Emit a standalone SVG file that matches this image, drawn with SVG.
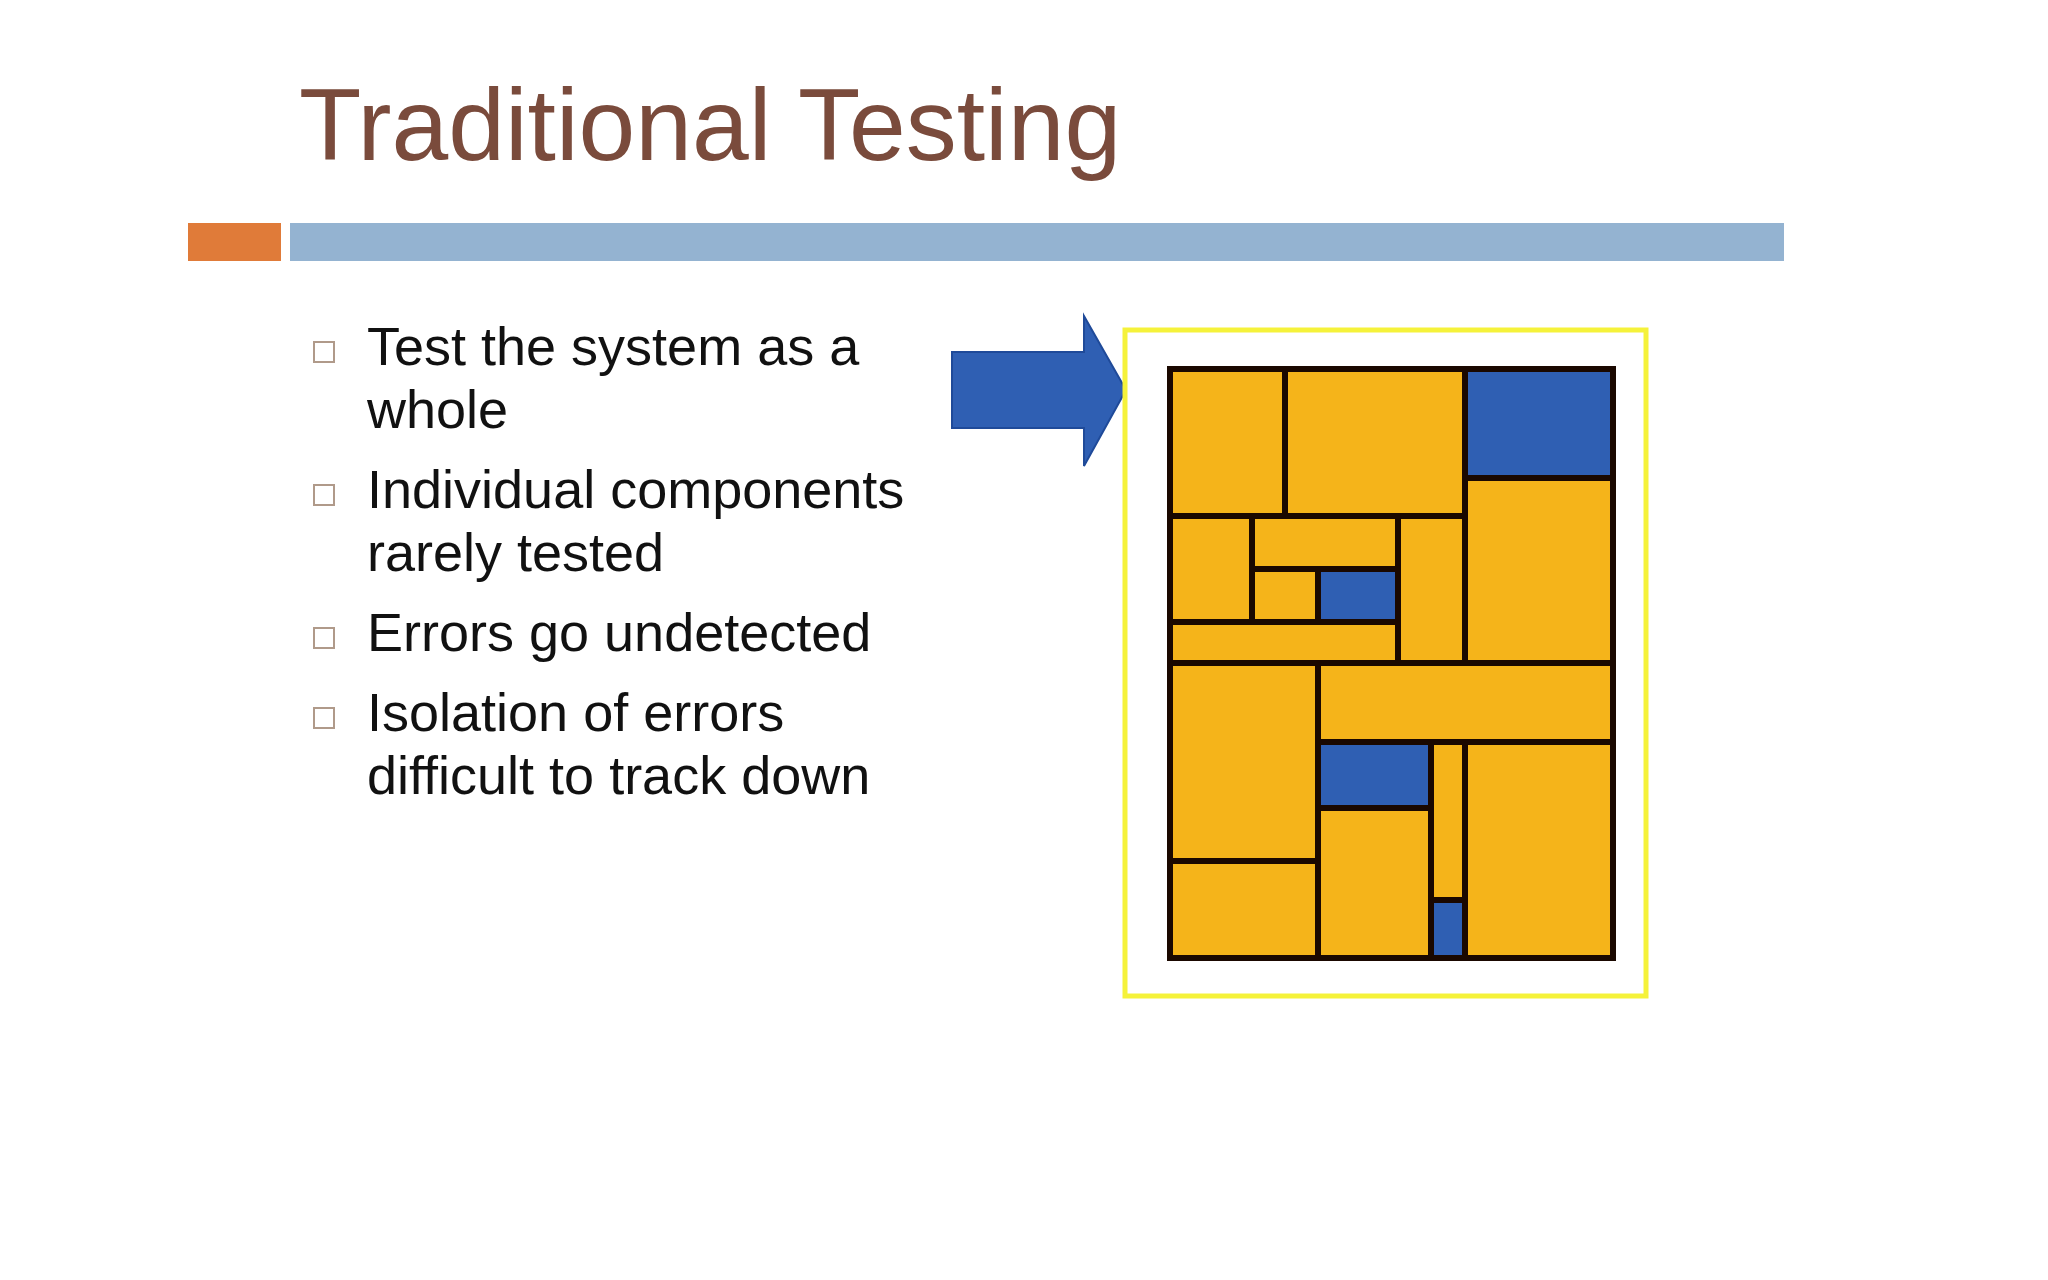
<svg xmlns="http://www.w3.org/2000/svg" width="2048" height="1280" viewBox="0 0 2048 1280">
<style>
.t{font-family:"Liberation Sans",Arial,sans-serif;fill:#111;font-size:54px}
.b{fill:none;stroke:#b09a8a;stroke-width:2}
.y{fill:#f5b41a;stroke:#1a0800;stroke-width:6}
.u{fill:#2f5fb3;stroke:#1a0800;stroke-width:6}
</style>
<rect width="2048" height="1280" fill="#fff"/>
<text x="299" y="160" font-family="Liberation Sans,Arial,sans-serif" font-size="102" fill="#7a4b3c">Traditional Testing</text>
<rect x="188" y="223" width="93" height="38" fill="#e07b39"/>
<rect x="290" y="223" width="1494" height="38" fill="#94b3d1"/>
<g id="bullets">
<rect class="b" x="314" y="342" width="20" height="20"/>
<rect class="b" x="314" y="485" width="20" height="20"/>
<rect class="b" x="314" y="628" width="20" height="20"/>
<rect class="b" x="314" y="708" width="20" height="20"/>
<text class="t" x="367" y="365">Test the system as a</text>
<text class="t" x="367" y="428">whole</text>
<text class="t" x="367" y="508">Individual components</text>
<text class="t" x="367" y="571">rarely tested</text>
<text class="t" x="367" y="651">Errors go undetected</text>
<text class="t" x="367" y="731">Isolation of errors</text>
<text class="t" x="367" y="794">difficult to track down</text>
</g>
<g id="arrow"><polygon points="952,352 1084,352 1084,316 1126,390 1084,466 1084,428 952,428" fill="#2f5fb3" stroke="#1f4a99" stroke-width="2"/></g>
<g id="system">
<rect x="1125" y="330" width="521" height="666" fill="none" stroke="#f5f23a" stroke-width="5"/>
<rect x="1170" y="369" width="443" height="589" fill="#1a0800"/>
<rect class="y" x="1170" y="369" width="115" height="147"/>
<rect class="y" x="1285" y="369" width="180" height="147"/>
<rect class="u" x="1465" y="369" width="148" height="109"/>
<rect class="y" x="1465" y="478" width="148" height="185"/>
<rect class="y" x="1170" y="516" width="82" height="106"/>
<rect class="y" x="1252" y="516" width="146" height="53"/>
<rect class="y" x="1252" y="569" width="66" height="53"/>
<rect class="u" x="1318" y="569" width="80" height="53"/>
<rect class="y" x="1170" y="622" width="228" height="41"/>
<rect class="y" x="1398" y="516" width="67" height="147"/>
<rect class="y" x="1170" y="663" width="148" height="198"/>
<rect class="y" x="1170" y="861" width="148" height="97"/>
<rect class="y" x="1318" y="663" width="295" height="79"/>
<rect class="u" x="1318" y="742" width="113" height="66"/>
<rect class="y" x="1318" y="808" width="113" height="150"/>
<rect class="y" x="1431" y="742" width="34" height="158"/>
<rect class="u" x="1431" y="900" width="34" height="58"/>
<rect class="y" x="1465" y="742" width="148" height="216"/>
</g>
</svg>
